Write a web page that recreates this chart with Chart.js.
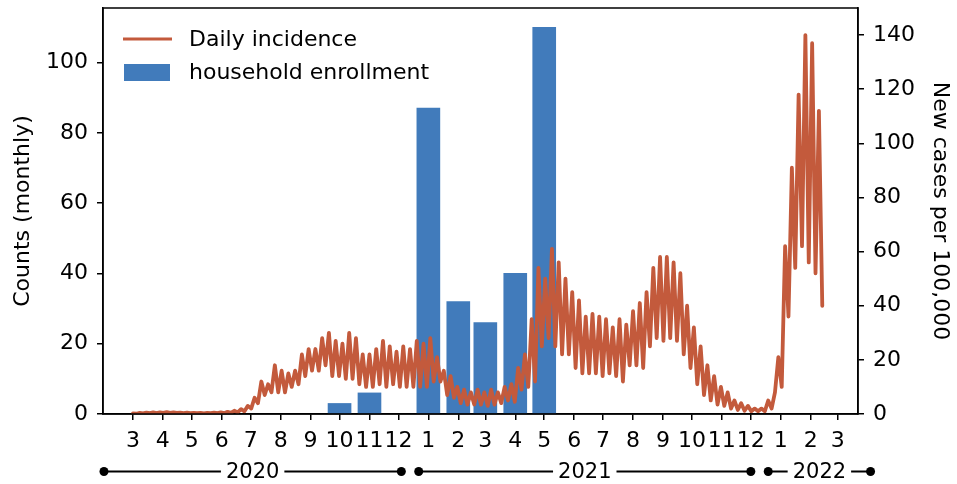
<!DOCTYPE html>
<html lang="en">
<head>
<meta charset="UTF-8" />
<title>Daily incidence and household enrollment</title>
<script src="https://cdn.jsdelivr.net/npm/chart.js@4"></script>
<style>
  html, body { margin: 0; padding: 0; background: #fff; }
  #chart { display: block; }
</style>
</head>
<body>
<canvas id="chart" width="957" height="484"></canvas>
<script>
  // month ticks on the x axis (first day of each month)
  const monthTicks = ['2020-03', '2020-04', '2020-05', '2020-06', '2020-07', '2020-08', '2020-09',
    '2020-10', '2020-11', '2020-12', '2021-01', '2021-02', '2021-03', '2021-04', '2021-05', '2021-06',
    '2021-07', '2021-08', '2021-09', '2021-10', '2021-11', '2021-12', '2022-01', '2022-02', '2022-03'];
  const monthLabels = ['3', '4', '5', '6', '7', '8', '9', '10', '11', '12', '1', '2', '3', '4', '5',
    '6', '7', '8', '9', '10', '11', '12', '1', '2', '3'];

  // year brackets under the axis
  const yearLabels = ['2020', '2021', '2022'];
  const yearFrom = ['2020-01-31', '2020-12-22', '2021-12-19'];
  const yearTo = ['2020-12-04', '2021-12-01', '2022-04-04'];

  // household enrollment, counts per month (left axis)
  const enrollMonths = ['2020-10', '2020-11', '2021-01', '2021-02', '2021-03', '2021-04', '2021-05'];
  const enrollCounts = [3, 6, 87, 32, 26, 40, 110];

  // daily incidence per 100,000 (right axis), read every half week from 2020-03-01
  const incidenceStart = '2020-03-01';
  const incidenceStepDays = 3.5;
  const incidence = [
    0.2, 0.1, 0.4, 0.2, 0.5, 0.3, 0.6, 0.3,
    0.6, 0.4, 0.7, 0.4, 0.6, 0.4, 0.5, 0.3, 0.5, 0.3,
    0.4, 0.3, 0.4, 0.2, 0.4, 0.3, 0.5, 0.3, 0.6, 0.3,
    0.8, 0.4, 1.2, 0.6, 1.8, 1.0,
    3, 2, 6, 4, 12, 7, 11, 8,
    18, 8, 16, 8, 15, 10, 16, 11,
    22, 14, 24, 16, 24, 16, 28, 18,
    30, 14, 27, 14, 26, 13, 30, 13,
    28, 11, 22, 10, 22, 10, 24, 11,
    27, 10, 25, 11, 23, 10, 25, 10,
    24, 10, 27, 10, 26, 10, 28, 12,
    21, 12, 16, 7, 14, 6, 10, 4,
    9, 3.5, 8, 3.5, 9, 3.5, 8, 3,
    9, 3.5, 8, 4, 10, 5, 11, 4.5,
    17, 9, 22, 10, 35, 12, 54, 25,
    50, 28, 61, 25, 56, 22, 50, 22,
    45, 17, 42, 15, 36, 15, 37, 15,
    36, 14, 35, 15, 32, 14, 35, 12,
    33, 18, 38, 18, 41, 17, 45, 25,
    54, 28, 58, 27, 58, 28, 56, 27,
    52, 22, 40, 17, 32, 11, 25, 7,
    18, 5, 14, 3.5, 10, 3, 8, 2,
    5, 1.5, 4, 1.2, 3, 1, 2, 1,
    2, 1, 5, 2,
    8, 21, 10, 62, 36, 91, 54, 118, 62, 140, 56, 137, 52, 112, 40
  ];

  const FONT = "'DejaVu Sans', sans-serif";
  const LINE_COLOR = '#c35a3c';
  const BAR_COLOR = '#417bbb';

  // days since 2020-03-01
  function dayOf(s) {
    const p = s.split('-').map(Number);
    return (Date.UTC(p[0], p[1] - 1, p[2] || 1) - Date.UTC(2020, 2, 1)) / 864e5;
  }

  const startDay = dayOf(incidenceStart);

  // top spine, matplotlib style box
  const framePlugin = {
    id: 'frame',
    afterDraw(chart) {
      const { ctx, chartArea: a } = chart;
      ctx.save();
      ctx.strokeStyle = '#000';
      ctx.lineWidth = 1.5;
      ctx.strokeRect(a.left, a.top, a.right - a.left, a.bottom - a.top);
      ctx.restore();
    }
  };

  // legend in the upper left corner of the plot
  const legendPlugin = {
    id: 'innerLegend',
    afterDraw(chart) {
      const { ctx, chartArea: a } = chart;
      const ds = chart.data.datasets;
      ctx.save();
      ctx.font = '22px ' + FONT;
      ctx.fillStyle = '#000';
      ctx.textBaseline = 'alphabetic';
      // line entry
      ctx.strokeStyle = ds[0].borderColor;
      ctx.lineWidth = 3;
      ctx.beginPath();
      ctx.moveTo(a.left + 20, a.top + 31);
      ctx.lineTo(a.left + 69, a.top + 31);
      ctx.stroke();
      ctx.fillText(ds[0].label, a.left + 86, a.top + 38);
      // bar entry
      ctx.fillStyle = ds[1].backgroundColor;
      ctx.fillRect(a.left + 21, a.top + 56, 46, 17);
      ctx.fillStyle = '#000';
      ctx.fillText(ds[1].label, a.left + 86, a.top + 71);
      ctx.restore();
    }
  };

  // year brackets below the month labels
  const yearPlugin = {
    id: 'years',
    afterDraw(chart) {
      const { ctx } = chart;
      const x = chart.scales.x;
      const y = 471.5;
      ctx.save();
      ctx.font = '21px ' + FONT;
      ctx.textAlign = 'center';
      ctx.textBaseline = 'middle';
      ctx.fillStyle = '#000';
      ctx.strokeStyle = '#000';
      ctx.lineWidth = 2;
      yearLabels.forEach((label, i) => {
        const x0 = x.getPixelForValue(dayOf(yearFrom[i]));
        const x1 = x.getPixelForValue(dayOf(yearTo[i]));
        const mid = (x0 + x1) / 2;
        const half = ctx.measureText(label).width / 2 + 5;
        ctx.beginPath();
        ctx.moveTo(x0, y);
        ctx.lineTo(mid - half, y);
        ctx.moveTo(mid + half, y);
        ctx.lineTo(x1, y);
        ctx.stroke();
        [x0, x1].forEach(px => {
          ctx.beginPath();
          ctx.arc(px, y, 4.5, 0, Math.PI * 2);
          ctx.fill();
        });
        ctx.fillText(label, mid, y + 1);
      });
      ctx.restore();
    }
  };

  const axisGrid = { drawOnChartArea: false, tickLength: 6, color: '#000', lineWidth: 1.5, offset: false };
  const axisBorder = { color: '#000', width: 1.5 };
  const tickFont = { family: FONT, size: 22 };

  new Chart(document.getElementById('chart'), {
    type: 'bar',
    data: {
      datasets: [{
        type: 'line',
        label: 'Daily incidence',
        data: incidence.map((v, i) => ({ x: startDay + i * incidenceStepDays, y: v })),
        yAxisID: 'yR',
        borderColor: LINE_COLOR,
        backgroundColor: LINE_COLOR,
        borderWidth: 3.8,
        pointRadius: 0,
        tension: 0,
        borderJoinStyle: 'round',
        borderCapStyle: 'round',
        order: 0
      }, {
        type: 'bar',
        label: 'household enrollment',
        data: enrollMonths.map((m, i) => ({ x: dayOf(m), y: enrollCounts[i] })),
        yAxisID: 'yL',
        backgroundColor: BAR_COLOR,
        barThickness: 23,
        order: 1
      }]
    },
    options: {
      responsive: false,
      devicePixelRatio: 1,
      animation: false,
      layout: { padding: { top: 8, left: 0, right: 0, bottom: 0 } },
      plugins: {
        legend: { display: false },
        tooltip: { enabled: false }
      },
      scales: {
        x: {
          type: 'linear',
          min: -31,
          max: 751,
          offset: false,
          afterFit(s) { s.height = 70; s.paddingLeft = 0; s.paddingRight = 0; },
          afterBuildTicks(s) { s.ticks = monthTicks.map(m => ({ value: dayOf(m) })); },
          ticks: {
            autoSkip: false,
            maxRotation: 0,
            padding: 8,
            color: '#000',
            font: tickFont,
            callback: (v, i) => monthLabels[i]
          },
          grid: axisGrid,
          border: axisBorder
        },
        yL: {
          position: 'left',
          min: 0,
          max: 115.5,
          afterFit(s) { s.width = 103; s.paddingTop = 0; s.paddingBottom = 0; },
          ticks: { stepSize: 20, includeBounds: false, padding: 9, color: '#000', font: tickFont },
          grid: axisGrid,
          border: axisBorder,
          title: {
            display: true,
            text: 'Counts (monthly)',
            color: '#000',
            font: { family: FONT, size: 22 },
            padding: { top: 10, bottom: 0 }
          }
        },
        yR: {
          position: 'right',
          min: 0,
          max: 150,
          afterFit(s) { s.width = 99; s.paddingTop = 0; s.paddingBottom = 0; },
          ticks: { stepSize: 20, includeBounds: false, padding: 9, color: '#000', font: tickFont },
          grid: axisGrid,
          border: axisBorder,
          title: {
            display: true,
            text: 'New cases per 100,000',
            color: '#000',
            font: { family: FONT, size: 22 },
            padding: { top: 4, bottom: 0 }
          }
        }
      }
    },
    plugins: [framePlugin, legendPlugin, yearPlugin]
  });
</script>
</body>
</html>
